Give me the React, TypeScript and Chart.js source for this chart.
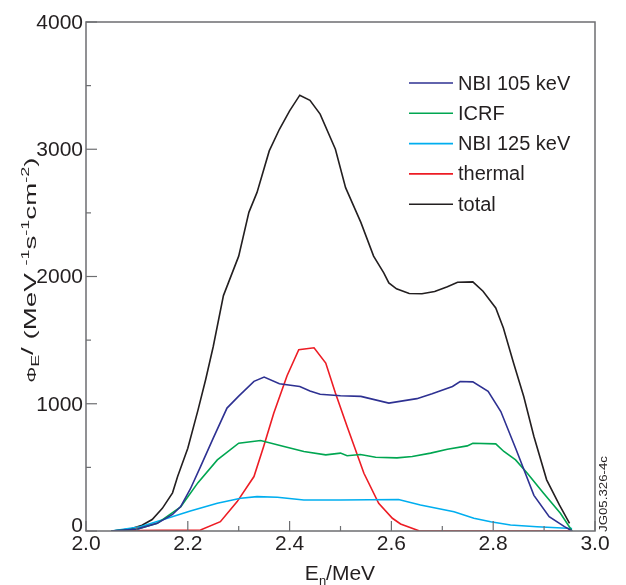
import React, { useEffect, useRef } from 'react';
import { Chart, registerables } from 'chart.js';

Chart.register(...registerables);

// ---- data ----
const seriesLabels = ['NBI 105 keV', 'ICRF', 'NBI 125 keV', 'thermal', 'total'];

const nbi105E = [2.05, 2.10, 2.14, 2.17, 2.186, 2.205, 2.225, 2.25, 2.277, 2.30, 2.33, 2.35, 2.38, 2.42, 2.44, 2.46, 2.50, 2.54, 2.595, 2.65, 2.68, 2.72, 2.735, 2.76, 2.79, 2.815, 2.845, 2.88, 2.91, 2.94, 2.955];
const nbi105V = [0, 15, 60, 130, 192, 330, 506, 730, 966, 1060, 1176, 1210, 1157, 1136, 1100, 1075, 1063, 1058, 1005, 1040, 1079, 1136, 1175, 1172, 1097, 939, 640, 280, 113, 34, 0];

const icrfE = [2.05, 2.10, 2.14, 2.186, 2.22, 2.258, 2.30, 2.343, 2.389, 2.428, 2.471, 2.50, 2.513, 2.539, 2.569, 2.611, 2.641, 2.677, 2.71, 2.749, 2.76, 2.805, 2.821, 2.844, 2.867, 2.899, 2.932, 2.955];
const icrfV = [0, 15, 60, 190, 380, 559, 690, 711, 664, 625, 598, 612, 591, 601, 580, 575, 585, 612, 643, 669, 690, 685, 625, 559, 454, 297, 139, 0];

const nbi125E = [2.05, 2.107, 2.16, 2.205, 2.258, 2.304, 2.336, 2.376, 2.428, 2.50, 2.614, 2.657, 2.723, 2.762, 2.795, 2.834, 2.886, 2.955];
const nbi125V = [0, 34, 100, 157, 218, 257, 270, 265, 244, 244, 248, 205, 152, 100, 73, 47, 34, 20];

const thermalE = [2.05, 2.10, 2.15, 2.20, 2.225, 2.264, 2.297, 2.33, 2.349, 2.369, 2.395, 2.418, 2.448, 2.471, 2.49, 2.513, 2.546, 2.575, 2.602, 2.618, 2.654, 2.70, 2.80, 2.955];
const thermalV = [0, 3, 5, 5, 8, 73, 231, 428, 664, 927, 1220, 1425, 1440, 1320, 1084, 821, 454, 218, 100, 55, 2, 0, 0, 0];

const totalE = [2.05, 2.07, 2.09, 2.11, 2.13, 2.15, 2.17, 2.18, 2.20, 2.22, 2.235, 2.25, 2.27, 2.30, 2.32, 2.336, 2.36, 2.38, 2.40, 2.42, 2.44, 2.46, 2.49, 2.51, 2.54, 2.565, 2.585, 2.595, 2.61, 2.635, 2.66, 2.685, 2.71, 2.73, 2.76, 2.78, 2.805, 2.82, 2.84, 2.86, 2.88, 2.905, 2.93, 2.95];
const totalV = [0, 8, 20, 45, 90, 178, 300, 428, 650, 950, 1189, 1450, 1850, 2160, 2504, 2661, 2987, 3157, 3302, 3425, 3385, 3276, 3000, 2698, 2425, 2160, 2029, 1950, 1903, 1866, 1864, 1882, 1919, 1955, 1958, 1884, 1753, 1596, 1320, 1057, 743, 402, 205, 60];

const xTickLabels = ['2.0', '2.2', '2.4', '2.6', '2.8', '3.0'];
const yTickLabels = ['0', '1000', '2000', '3000', '4000'];

// ---- styles ----
const seriesColors = ['#2e3192', '#00a651', '#00aeef', '#ed1c24', '#231f20'];
const TEXT = '#231f20';
const FRAME = '#6d6e71';
const FONT = 'Arial, "Liberation Sans", sans-serif';

const seriesE = [nbi105E, icrfE, nbi125E, thermalE, totalE];
const seriesV = [nbi105V, icrfV, nbi125V, thermalV, totalV];

type Seg = { t: string; s: number; dy: number };

function drawRich(ctx: CanvasRenderingContext2D, segs: Seg[], cx: number, cy: number, rot: number, length?: number) {
  ctx.save();
  ctx.translate(cx, cy);
  ctx.rotate(rot);
  ctx.textBaseline = 'alphabetic';
  ctx.textAlign = 'left';
  let total = 0;
  const widths = segs.map((g) => {
    ctx.font = `${g.s}px ${FONT}`;
    const w = ctx.measureText(g.t).width;
    total += w;
    return w;
  });
  const k = length ? length / total : 1;
  ctx.scale(k, 1);
  let x = -total / 2;
  segs.forEach((g, i) => {
    ctx.font = `${g.s}px ${FONT}`;
    ctx.fillText(g.t, x, g.dy);
    x += widths[i];
  });
  ctx.restore();
}

const framePlugin = {
  id: 'framePlugin',
  afterDraw(chart: any) {
    const { ctx, chartArea: a } = chart;
    const xs = chart.scales.x;
    const ys = chart.scales.y;
    ctx.save();
    ctx.strokeStyle = FRAME;
    ctx.lineWidth = 1.5;
    ctx.strokeRect(a.left, a.top, a.right - a.left, a.bottom - a.top);

    ctx.lineWidth = 1.2;
    xs.ticks.forEach((t: any) => {
      const px = xs.getPixelForValue(t.value);
      const major = Math.round(t.value * 10) % 2 === 0;
      const len = major ? 10 : 5;
      ctx.beginPath();
      ctx.moveTo(px, a.bottom);
      ctx.lineTo(px, a.bottom - len);
      ctx.stroke();
    });
    ys.ticks.forEach((t: any) => {
      const py = ys.getPixelForValue(t.value);
      const major = Math.round(t.value / 500) % 2 === 0;
      const len = major ? 11 : 5;
      ctx.beginPath();
      ctx.moveTo(a.left, py);
      ctx.lineTo(a.left + len, py);
      ctx.stroke();
    });

    // tick labels
    ctx.fillStyle = TEXT;
    ctx.font = `21px ${FONT}`;
    ctx.textAlign = 'center';
    ctx.textBaseline = 'middle';
    xTickLabels.forEach((lab) => {
      const px = xs.getPixelForValue(parseFloat(lab));
      ctx.fillText(lab, px, a.bottom + 13);
    });
    ctx.textAlign = 'right';
    yTickLabels.forEach((lab) => {
      const v = parseFloat(lab);
      const py = ys.getPixelForValue(v);
      ctx.fillText(lab, a.left - 3, v === 0 ? py - 5 : py + 1);
    });

    // x axis title
    drawRich(ctx, [
      { t: 'E', s: 21, dy: 0 },
      { t: 'n', s: 13, dy: 5 },
      { t: '/MeV', s: 21, dy: 0 },
    ], 340, 580, 0);

    // y axis title
    drawRich(ctx, [
      { t: 'Φ', s: 12, dy: 0 },
      { t: 'E', s: 11, dy: 3 },
      { t: '/ ', s: 17, dy: -3 },
      { t: '(MeV ', s: 17, dy: 0 },
      { t: '-1', s: 11, dy: -7 },
      { t: 's', s: 17, dy: 0 },
      { t: '-1', s: 11, dy: -7 },
      { t: 'cm', s: 17, dy: 0 },
      { t: '-2', s: 11, dy: -7 },
      { t: ')', s: 17, dy: 0 },
    ], 36, 270, -Math.PI / 2, 225);

    // legend
    const x0 = 409, x1 = 453;
    ctx.font = `20px ${FONT}`;
    ctx.textAlign = 'left';
    ctx.textBaseline = 'middle';
    seriesLabels.forEach((lab, i) => {
      const yy = 83 + i * 30.3;
      ctx.strokeStyle = seriesColors[i];
      ctx.lineWidth = 1.6;
      ctx.beginPath();
      ctx.moveTo(x0, yy);
      ctx.lineTo(x1, yy);
      ctx.stroke();
      ctx.fillStyle = TEXT;
      ctx.fillText(lab, 458, yy + 1);
    });

    // figure code
    drawRich(ctx, [{ t: 'JG05.326-4c', s: 11, dy: 0 }], 607, 494, -Math.PI / 2, 76);
    ctx.restore();
  },
};

export default function App() {
  const ref = useRef<HTMLCanvasElement | null>(null);
  useEffect(() => {
    if (!ref.current) return;
    const datasets = seriesLabels.map((lab, i) => ({
      label: lab,
      data: seriesE[i].map((e, j) => ({ x: e, y: seriesV[i][j] })),
      borderColor: seriesColors[i],
      backgroundColor: seriesColors[i],
      borderWidth: 1.6,
      pointRadius: 0,
      tension: 0,
      fill: false,
    }));
    const chart = new Chart(ref.current, {
      type: 'line',
      data: { datasets },
      options: {
        animation: false,
        responsive: false,
        devicePixelRatio: 1,
        layout: { padding: { top: 22, right: 31, left: 0, bottom: 0 } },
        plugins: { legend: { display: false }, tooltip: { enabled: false } },
        scales: {
          x: {
            type: 'linear', min: 2, max: 3,
            ticks: { stepSize: 0.1, display: false },
            grid: { display: false, drawTicks: false },
            border: { display: false },
            afterFit: (s: any) => { s.height = 54; },
          },
          y: {
            type: 'linear', min: 0, max: 4000,
            ticks: { stepSize: 500, display: false },
            grid: { display: false, drawTicks: false },
            border: { display: false },
            afterFit: (s: any) => { s.width = 86; },
          },
        },
      } as any,
      plugins: [framePlugin],
    });
    return () => chart.destroy();
  }, []);
  return (
    <div style={{ position: 'fixed', left: 0, top: 0, width: 626, height: 585, background: '#fff' }}>
      <canvas ref={ref} width={626} height={585} style={{ display: 'block' }} />
    </div>
  );
}
